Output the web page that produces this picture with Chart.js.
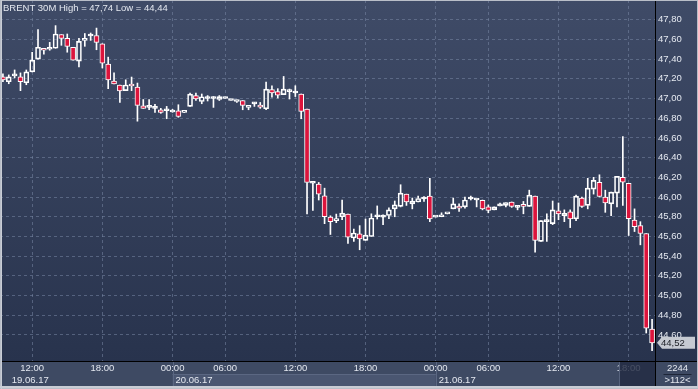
<!DOCTYPE html>
<html>
<head>
<meta charset="utf-8">
<script src="https://cdn.jsdelivr.net/npm/chart.js@4.4.1/dist/chart.umd.min.js"></script>
<style>
  html, body { margin: 0; padding: 0; background: #3e4a63; }
  #wrap { width: 698px; height: 389px; position: relative; }
</style>
</head>
<body>
<div id="wrap"><canvas id="chart"></canvas></div>
<script>
// BRENT 30M candles (one per 30 minutes)
const opens = [
  47.22, 47.17, 47.23, 47.22, 47.16, 47.27, 47.40, 47.51, 47.50, 47.51,
  47.65, 47.61, 47.52, 47.38, 47.59, 47.635, 47.64, 47.556, 47.35, 47.178,
  47.137, 47.08, 47.147, 47.117, 46.927, 46.91, 46.90, 46.886, 46.876, 46.863,
  46.876, 46.86, 46.92, 47.03, 46.97, 47.00, 47.00, 46.99, 47.00, 46.98,
  46.97, 46.98, 46.91, 46.945, 46.934, 46.896, 47.09, 47.07, 47.04, 47.07,
  47.056, 47.046, 46.893, 46.14, 46.132, 46.013, 45.797, 45.76, 45.80, 45.827,
  45.584, 45.627, 45.56, 45.60, 45.80, 45.797, 45.813, 45.88, 45.905, 46.03,
  45.93, 45.95, 45.98, 46.01, 45.797, 45.80, 45.83, 45.88, 45.90, 45.90,
  45.98, 45.97, 45.966, 45.90, 45.87, 45.91, 45.915, 45.95, 45.895, 45.92,
  45.905, 46.01, 45.55, 45.75, 45.73, 45.86, 45.81, 45.85, 45.78, 45.99,
  45.915, 46.08, 46.15, 46.00, 45.93, 46.04, 46.20, 46.14, 45.767, 45.71,
  45.63, 44.66
];
const highs = [
  47.25, 47.24, 47.29, 47.26, 47.29, 47.47, 47.70, 47.51, 47.57, 47.74,
  47.65, 47.655, 47.52, 47.61, 47.66, 47.665, 47.715, 47.556, 47.42, 47.26,
  47.137, 47.19, 47.218, 47.157, 46.99, 46.99, 46.94, 46.90, 46.92, 46.89,
  46.937, 46.86, 47.056, 47.056, 47.046, 47.03, 47.02, 47.03, 47.015, 46.99,
  46.985, 46.98, 46.925, 46.96, 46.96, 47.167, 47.13, 47.10, 47.224, 47.096,
  47.13, 47.046, 46.893, 46.148, 46.148, 46.09, 45.81, 45.827, 45.97, 45.827,
  45.675, 45.71, 45.777, 45.83, 45.91, 45.82, 45.89, 45.96, 46.125, 46.03,
  45.99, 46.01, 46.006, 46.19, 45.80, 45.84, 45.83, 45.99, 45.93, 46.00,
  46.01, 45.97, 45.97, 45.92, 45.90, 45.94, 45.945, 45.95, 45.915, 45.955,
  46.07, 46.01, 45.76, 45.83, 45.96, 45.94, 45.87, 45.87, 46.02, 46.00,
  46.19, 46.20, 46.226, 46.07, 46.05, 46.21, 46.615, 46.14, 45.88, 45.75,
  45.63, 44.76
];
const lows = [
  47.17, 47.15, 47.21, 47.08, 47.14, 47.27, 47.40, 47.45, 47.49, 47.51,
  47.54, 47.47, 47.39, 47.32, 47.53, 47.59, 47.495, 47.31, 47.10, 47.147,
  46.96, 47.08, 47.08, 46.77, 46.90, 46.886, 46.86, 46.85, 46.795, 46.86,
  46.81, 46.86, 46.92, 46.98, 46.947, 46.975, 46.91, 46.98, 47.00, 46.98,
  46.96, 46.886, 46.886, 46.92, 46.90, 46.886, 47.015, 47.005, 47.04, 46.995,
  47.02, 46.795, 45.83, 45.864, 45.97, 45.73, 45.62, 45.74, 45.77, 45.53,
  45.55, 45.465, 45.56, 45.60, 45.777, 45.72, 45.78, 45.80, 45.90, 45.915,
  45.88, 45.95, 45.955, 45.75, 45.797, 45.80, 45.83, 45.88, 45.855, 45.888,
  45.97, 45.90, 45.87, 45.84, 45.87, 45.91, 45.90, 45.895, 45.87, 45.83,
  45.905, 45.44, 45.55, 45.55, 45.72, 45.77, 45.75, 45.69, 45.76, 45.895,
  45.88, 46.03, 46.00, 45.845, 45.81, 45.90, 45.915, 45.61, 45.65, 45.515,
  44.62, 44.44
];
const closes = [
  47.19, 47.22, 47.24, 47.17, 47.27, 47.39, 47.52, 47.49, 47.51, 47.655,
  47.61, 47.53, 47.39, 47.58, 47.61, 47.64, 47.57, 47.36, 47.19, 47.147,
  47.076, 47.137, 47.127, 46.93, 46.90, 46.91, 46.90, 46.86, 46.876, 46.883,
  46.818, 46.86, 47.045, 46.995, 47.018, 47.00, 47.00, 47.02, 47.015, 46.99,
  46.985, 46.93, 46.925, 46.945, 46.913, 47.096, 47.056, 47.035, 47.096, 47.07,
  47.056, 46.87, 46.148, 46.14, 46.03, 45.80, 45.75, 45.78, 45.837, 45.594,
  45.635, 45.574, 45.614, 45.787, 45.80, 45.797, 45.87, 45.92, 46.04, 45.95,
  45.96, 45.985, 45.98, 45.777, 45.80, 45.82, 45.83, 45.93, 45.888, 45.97,
  45.98, 45.97, 45.88, 45.865, 45.90, 45.92, 45.945, 45.905, 45.895, 45.905,
  46.02, 45.56, 45.76, 45.75, 45.87, 45.83, 45.835, 45.777, 46.01, 45.905,
  46.09, 46.17, 46.006, 45.94, 46.05, 46.21, 46.15, 45.78, 45.70, 45.63,
  44.67, 44.52
];

// axis labels
const timeIdx = [5, 17, 29, 38, 50, 62, 74, 83, 95, 107];
const timeText = ['12:00', '18:00', '00:00', '06:00', '12:00', '18:00', '00:00', '06:00', '12:00', '18:00'];
const dateIdx = [1, 29, 74];
const dateText = ['19.06.17', '20.06.17', '21.06.17'];
const priceTicks = [44.6, 44.8, 45.0, 45.2, 45.4, 45.6, 45.8, 46.0, 46.2, 46.4, 46.6, 46.8, 47.0, 47.2, 47.4, 47.6, 47.8];
const lastPrice = 44.52;

const FONT = 'Liberation Sans, Arial, sans-serif';
const RED = '#dc143c';
const GRID = 'rgba(120, 134, 164, 0.55)';
const TXT = '#e4e8f0';

const fmt = v => v.toFixed(2).replace('.', ',');

const bodies = opens.map((o, i) => [o, closes[i]]);
const wickTop = opens.map((o, i) => [Math.max(o, closes[i]), highs[i]]);
const wickBot = opens.map((o, i) => [lows[i], Math.min(o, closes[i])]);
const bodyFill = opens.map((o, i) => closes[i] < o ? RED : 'rgba(0,0,0,0)');

const panelPlugin = {
  id: 'panels',
  beforeDraw(chart) {
    const ctx = chart.ctx;
    const a = chart.chartArea;
    const W = chart.width, H = chart.height;
    const x = chart.scales.x;
    ctx.save();
    // bottom panel
    ctx.fillStyle = '#3e4a63';
    ctx.fillRect(0, 0, W, H);
    // plot + price scale gradient
    const g = ctx.createLinearGradient(0, 0, 0, a.bottom);
    g.addColorStop(0, '#3f4b67');
    g.addColorStop(1, '#28334d');
    ctx.fillStyle = g;
    ctx.fillRect(0, 0, W, a.bottom);
    // highlighted day band
    const x0 = x.getPixelForValue(dateIdx[1]);
    const x1 = x.getPixelForValue(dateIdx[2]);
    ctx.fillStyle = '#4a5671';
    ctx.fillRect(x0, a.bottom + 13, x1 - x0, 13);
    ctx.fillStyle = '#5b6782';
    ctx.fillRect(x0, a.bottom + 13, x1 - x0, 1);
    ctx.fillRect(Math.round(x0), a.bottom + 1, 1, 25);
    ctx.fillRect(Math.round(x1), a.bottom + 1, 1, 25);
    ctx.restore();
  },
  afterDraw(chart) {
    const ctx = chart.ctx;
    const a = chart.chartArea;
    const W = chart.width, H = chart.height;
    const x = chart.scales.x, y = chart.scales.y;
    ctx.save();
    ctx.font = '9.5px ' + FONT;
    ctx.textBaseline = 'middle';

    // title
    ctx.fillStyle = TXT;
    ctx.textAlign = 'left';
    ctx.fillText('BRENT 30M High = 47,74 Low = 44,44', 3, 8);

    // date row
    dateText.forEach((t, k) => {
      ctx.fillText(t, x.getPixelForValue(dateIdx[k]) + 3, a.bottom + 19);
    });

    // cursor box over the last time label
    ctx.fillStyle = 'rgba(34, 43, 66, 0.82)';
    ctx.fillRect(620, a.bottom + 1, a.right - 620, 25);
    ctx.fillStyle = '#56627c';
    ctx.fillRect(619, a.bottom + 1, 1, 25);

    // axis lines
    ctx.fillStyle = '#000';
    ctx.fillRect(0, a.bottom, W, 1);
    ctx.fillRect(a.right, 0, 1, H - 3);

    // bars count box
    ctx.fillStyle = TXT;
    ctx.textAlign = 'center';
    const cx = (a.right + W) / 2 + 1;
    ctx.fillText('2244', cx, a.bottom + 7);
    ctx.fillStyle = '#1e2638';
    ctx.fillRect(cx - 14, a.bottom + 13, 28, 1);
    ctx.fillStyle = TXT;
    ctx.fillText('>112<', cx, a.bottom + 19);

    // last price marker
    const py = y.getPixelForValue(lastPrice);
    ctx.fillStyle = '#c6cad2';
    ctx.beginPath();
    ctx.moveTo(a.right + 2, py);
    ctx.lineTo(a.right + 7, py - 6);
    ctx.lineTo(W - 3, py - 6);
    ctx.lineTo(W - 3, py + 6);
    ctx.lineTo(a.right + 7, py + 6);
    ctx.closePath();
    ctx.fill();
    ctx.fillStyle = '#1a1d24';
    ctx.textAlign = 'left';
    ctx.fillText(fmt(lastPrice), a.right + 6, py + 0.5);

    // window frame
    ctx.strokeStyle = '#b9bec8';
    ctx.lineWidth = 1;
    ctx.strokeRect(0.5, 0.5, W - 1, H - 1);
    ctx.fillStyle = '#c9cdd5';
    ctx.fillRect(0, H - 3, W, 2);
    ctx.fillRect(1, 0, 1, H);
    ctx.restore();
  }
};

new Chart(document.getElementById('chart'), {
  type: 'bar',
  data: {
    labels: opens.map((_, i) => i),
    datasets: [
      {
        data: bodies,
        backgroundColor: bodyFill,
        borderColor: '#ffffff',
        borderWidth: 1,
        borderSkipped: false,
        barThickness: 5,
        minBarLength: 2,
        grouped: false,
        order: 0
      },
      {
        data: wickTop,
        backgroundColor: '#ffffff',
        borderWidth: 0,
        barThickness: 1,
        grouped: false,
        order: 1
      },
      {
        data: wickBot,
        backgroundColor: '#ffffff',
        borderWidth: 0,
        barThickness: 1,
        grouped: false,
        order: 1
      }
    ]
  },
  options: {
    responsive: true,
    maintainAspectRatio: false,
    animation: false,
    devicePixelRatio: 1,
    layout: { padding: 0 },
    plugins: {
      legend: { display: false },
      tooltip: { enabled: false }
    },
    scales: {
      x: {
        type: 'category',
        offset: true,
        grid: {
          offset: false,
          drawTicks: false,
          color: c => timeIdx.includes(c.index) ? GRID : 'rgba(0,0,0,0)'
        },
        border: { display: false, dash: [3, 3] },
        ticks: {
          autoSkip: false,
          maxRotation: 0,
          padding: 2,
          color: TXT,
          font: { family: FONT, size: 9.5 },
          callback: (v, i) => {
            const k = timeIdx.indexOf(i);
            return k >= 0 ? timeText[k] : '';
          }
        },
        afterFit: s => {
          s.height = 28;
          s.paddingLeft = 0;
          s.paddingRight = 0;
        }
      },
      y: {
        position: 'right',
        min: 44.336,
        max: 48.0,
        grid: { drawTicks: false, color: GRID },
        border: { display: false, dash: [3, 3] },
        ticks: {
          padding: 3,
          color: TXT,
          font: { family: FONT, size: 9.5 },
          callback: v => fmt(v)
        },
        afterBuildTicks: s => {
          s.ticks = priceTicks.map(v => ({ value: v }));
        },
        afterFit: s => {
          s.width = 43;
          s.paddingTop = 0;
          s.paddingBottom = 0;
        }
      }
    }
  },
  plugins: [panelPlugin]
});
</script>
</body>
</html>
